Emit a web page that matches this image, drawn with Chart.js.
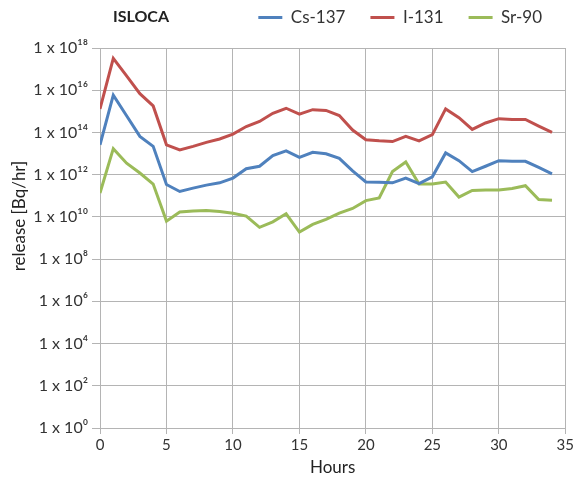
<!DOCTYPE html>
<html>
<head>
<meta charset="utf-8">
<script src="https://cdn.jsdelivr.net/npm/chart.js@4/dist/chart.umd.min.js"></script>
<style>
  body { margin: 0; background: #fff; }
  #grafico { display: block; }
</style>
</head>
<body>
<canvas id="grafico" width="576" height="478"></canvas>
<script>
// hours 0..34
var hours = [0, 1, 2, 3, 4, 5, 6, 7, 8, 9, 10, 11, 12, 13, 14, 15, 16, 17, 18, 19,
             20, 21, 22, 23, 24, 25, 26, 27, 28, 29, 30, 31, 32, 33, 34];

// release [Bq/hr]
var cs137 = [2.6e13, 5.8e15, 6.2e14, 6.5e13, 2.2e13, 3.4e11, 1.6e11, 2.3e11, 3.2e11, 4.1e11,
             6.9e11, 1.9e12, 2.5e12, 8.1e12, 1.35e13, 6.6e12, 1.15e13, 9.8e12, 5.9e12, 1.5e12,
             4.5e11, 4.4e11, 4.1e11, 6.9e11, 3.8e11, 7.9e11, 1.07e13, 4.6e12, 1.4e12, 2.5e12,
             4.6e12, 4.3e12, 4.3e12, 2.2e12, 1.1e12];
var i131 = [1.3e15, 3.2e17, 4.8e16, 6.9e15, 1.8e15, 2.6e13, 1.5e13, 2.2e13, 3.4e13, 4.9e13,
            8.3e13, 1.9e14, 3.3e14, 8.1e14, 1.4e15, 7.4e14, 1.2e15, 1.1e15, 6.3e14, 1.3e14,
            4.5e13, 4.0e13, 3.7e13, 6.5e13, 4.0e13, 7.8e13, 1.3e15, 5.0e14, 1.4e14, 2.8e14,
            4.5e14, 4.1e14, 4.1e14, 2.0e14, 1.0e14];
var sr90 = [1.35e11, 1.7e13, 3.5e12, 1.2e12, 3.6e11, 6.3e9, 1.7e10, 1.9e10, 2.0e10, 1.8e10,
            1.5e10, 1.1e10, 3.2e9, 5.8e9, 1.4e10, 1.9e9, 4.4e9, 7.6e9, 1.5e10, 2.5e10,
            5.9e10, 7.9e10, 1.4e12, 4.0e12, 3.6e11, 3.6e11, 4.5e11, 8.7e10, 1.8e11, 1.9e11,
            1.9e11, 2.2e11, 3.0e11, 6.6e10, 6.2e10];

var yTicks = [1, 1e2, 1e4, 1e6, 1e8, 1e10, 1e12, 1e14, 1e16, 1e18];
var supers = { '0': '\u2070', '1': '\u00b9', '2': '\u00b2', '3': '\u00b3', '4': '\u2074',
               '5': '\u2075', '6': '\u2076', '7': '\u2077', '8': '\u2078', '9': '\u2079' };

(function () {

    function pares(serie) {
        return hours.map(function (h, i) { return { x: h, y: serie[i] }; });
    }

    function expo(v) {
        var e = String(Math.round(Math.log10(v)));
        return '1 x 10' + e.split('').map(function (c) { return supers[c]; }).join('');
    }

    var fuente = 'Lato, "Open Sans", sans-serif';
    var gris = '#b4b4b4';

    // "ISLOCA" a la izquierda de la leyenda y el título vertical del eje y
    var textosPlugin = {
        id: 'textos',
        afterDraw: function (chart) {
            var ctx = chart.ctx;
            ctx.save();
            ctx.font = 'bold 16px ' + fuente;
            ctx.fillStyle = '#222';
            ctx.textBaseline = 'middle';
            ctx.fillText('ISLOCA', 113, 17);

            ctx.translate(20, 216);
            ctx.rotate(-Math.PI / 2);
            ctx.font = '17px ' + fuente;
            ctx.textAlign = 'center';
            ctx.fillText('release [Bq/hr]', 0, 0);
            ctx.restore();
        }
    };

    var ctx = document.getElementById('grafico').getContext('2d');
    new Chart(ctx, {
        type: 'line',
        data: {
            datasets: [{
                label: 'Cs-137',
                data: pares(cs137),
                borderColor: '#4f81bd',
                backgroundColor: '#4f81bd',
                borderWidth: 3,
                pointRadius: 0
            }, {
                label: 'I-131',
                data: pares(i131),
                borderColor: '#c0504d',
                backgroundColor: '#c0504d',
                borderWidth: 3,
                pointRadius: 0
            }, {
                label: 'Sr-90',
                data: pares(sr90),
                borderColor: '#9bbb59',
                backgroundColor: '#9bbb59',
                borderWidth: 3,
                pointRadius: 0
            }]
        },
        plugins: [textosPlugin],
        options: {
            responsive: false,
            animation: false,
            layout: { padding: { top: -16, right: 9, left: 0, bottom: 0 } },
            plugins: {
                legend: {
                    position: 'top',
                    align: 'end',
                    labels: {
                        usePointStyle: true,
                        pointStyle: 'line',
                        pointStyleWidth: 24,
                        padding: 25,
                        color: '#333',
                        font: { family: fuente, size: 17 }
                    }
                },
                // espacio vacío entre la leyenda y el área del gráfico
                subtitle: {
                    display: true,
                    text: '',
                    position: 'top',
                    weight: 500,
                    padding: 0,
                    font: { size: 10 }
                },
                tooltip: { enabled: false }
            },
            scales: {
                x: {
                    type: 'linear',
                    min: 0,
                    max: 35,
                    ticks: {
                        stepSize: 5,
                        color: '#333',
                        font: { family: fuente, size: 15 },
                        padding: 2
                    },
                    grid: { color: gris, lineWidth: 1, tickLength: 6 },
                    border: { color: gris },
                    title: {
                        display: true,
                        text: 'Hours',
                        color: '#222',
                        font: { family: fuente, size: 17 },
                        padding: 0
                    },
                    afterFit: function (scale) { scale.height = 50; }
                },
                y: {
                    type: 'logarithmic',
                    min: 1,
                    max: 1e18,
                    afterBuildTicks: function (scale) {
                        scale.ticks = yTicks.map(function (v) { return { value: v }; });
                    },
                    ticks: {
                        color: '#333',
                        font: { family: fuente, size: 16 },
                        padding: 4,
                        callback: function (v) { return expo(v); }
                    },
                    grid: { color: gris, lineWidth: 1, tickLength: 8 },
                    border: { color: gris },
                    afterFit: function (scale) { scale.width = 100; }
                }
            }
        }
    });

})();
</script>
</body>
</html>
